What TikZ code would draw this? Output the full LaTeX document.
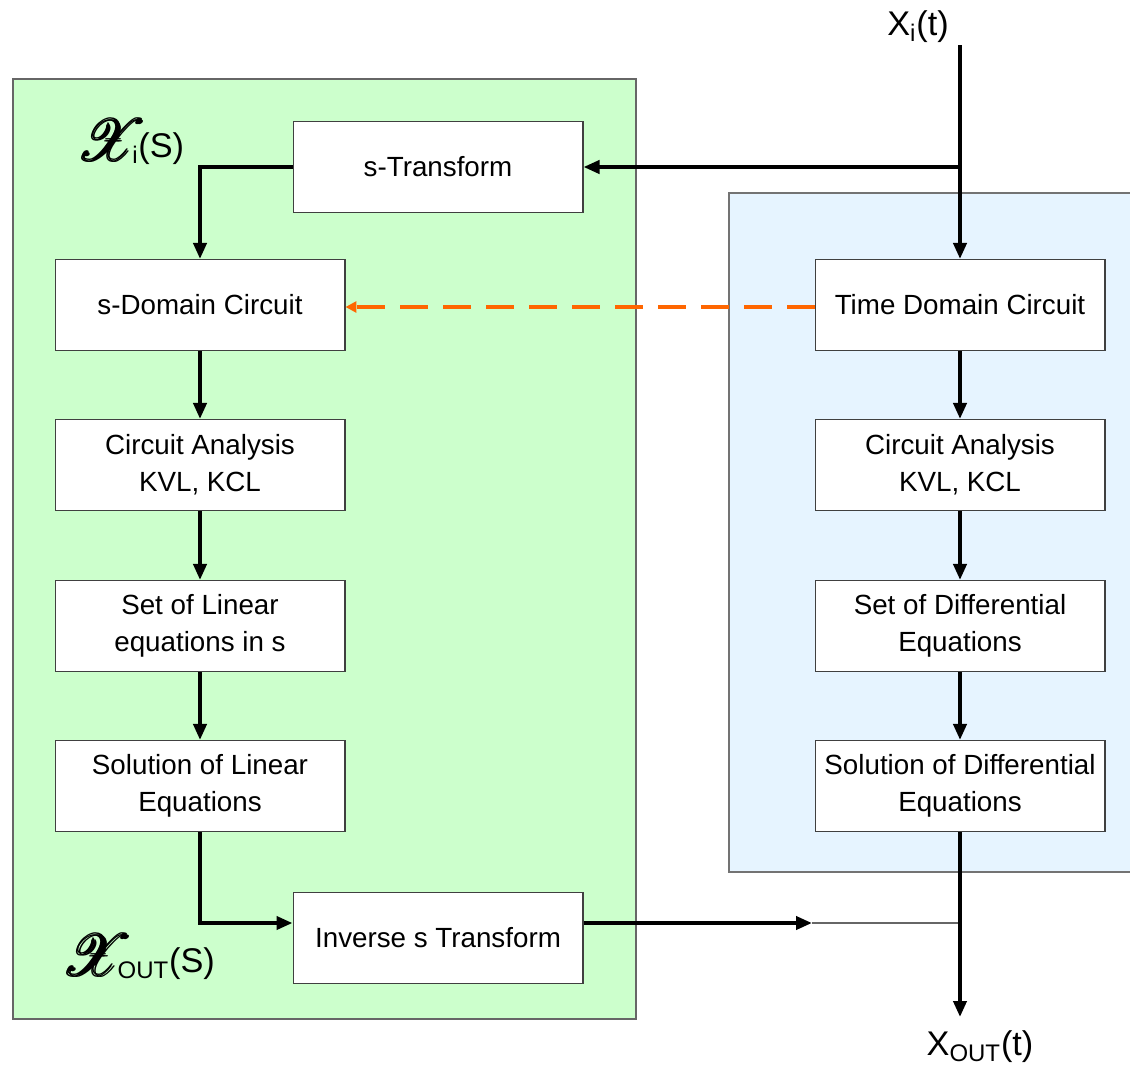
\documentclass[tikz,border=0pt]{standalone}
\usepackage{fontspec}
\setmainfont{Liberation Sans}
\usepackage{amsmath}
\usepackage{mathrsfs}
\usetikzlibrary{arrows.meta,positioning}
\definecolor{sgreen}{HTML}{CCFFCC}
\definecolor{tblue}{HTML}{E6F4FF}
\definecolor{dorange}{HTML}{FF6600}
\tikzset{font=\fontsize{15.8}{21}\selectfont}
\tikzset{blk/.style={draw=black!75, fill=white, line width=0.6pt, minimum width=5.8cm, minimum height=1.82cm, align=center, inner sep=0pt}}
\tikzset{flow/.style={line width=2.2pt, -{Triangle[length=0.32cm,width=0.26cm]}}}
\tikzset{sig/.style={font=\fontsize{19.5}{23}\selectfont}}
\newcommand{\scrX}{\raisebox{-2pt}{\scalebox{1.6}{$\pmb{\mathscr{X}}$}}}

\begin{document}
\begin{tikzpicture}[x=0.02cm, y=-0.02cm]
  \useasboundingbox (0,0) rectangle (1130,1069);
  % domains
  \draw[draw=black!60, fill=sgreen, line width=0.6pt] (13,79) rectangle (636,1019);
  \draw[draw=black!55, fill=tblue, line width=0.6pt] (729,193) rectangle (1140,872);
  % s-domain side
  \node[blk] (st) at (438,167) {s-Transform};
  \node[blk] (sdc) at (200,305) {s-Domain Circuit};
  \node[blk] (sca) at (200,465) {Circuit Analysis\\KVL, KCL};
  \node[blk] (slin) at (200,626) {Set of Linear\\equations in s};
  \node[blk] (ssol) at (200,786) {Solution of Linear\\Equations};
  \node[blk] (inv) at (438,938) {Inverse s Transform};
  % time domain side
  \node[blk] (tdc) at (960,305) {Time Domain Circuit};
  \node[blk] (tca) at (960,465) {Circuit Analysis\\KVL, KCL};
  \node[blk] (tde) at (960,626) {Set of Differential\\Equations};
  \node[blk] (tsol) at (960,786) {Solution of Differential\\Equations};
  % signals
  \node[sig] (xit) at (918,27) {X\textsubscript{i}(t)};
  \node[sig] (xot) at (980,1047) {X\textsubscript{OUT}(t)};
  \node[sig] (xis) at (131,142) {\scrX\kern-9pt\textsubscript{i}(S)};
  \node[sig] (xos) at (139,957) {\scrX\kern-9pt\textsubscript{OUT}(S)};
  \coordinate (top) at (960,45);
  \coordinate (split) at (960,167);
  \coordinate (jl) at (200,923);
  \coordinate (jr) at (960,923);
  \coordinate (tip) at (812,923);
  \coordinate (bot) at (960,1017);
  % connectors
  \draw[flow] (top) -- (tdc.north);
  \draw[flow] (split) -- (st.east);
  \draw[flow] (st.west) -| (sdc.north);
  \draw[flow] (sdc) -- (sca);
  \draw[flow] (sca) -- (slin);
  \draw[flow] (slin) -- (ssol);
  \draw[flow] (ssol.south) |- (jl -| inv.west);
  \draw[flow] (jl -| inv.east) -- (tip);
  \draw[black!60, line width=0.6pt] (tip) -- (jr);
  \draw[flow] (tdc) -- (tca);
  \draw[flow] (tca) -- (tde);
  \draw[flow] (tde) -- (tsol);
  \draw[flow] (tsol.south) -- (bot);
  \draw[dorange, line width=2.2pt, dash pattern=on 0.56cm off 0.3cm, -{Triangle[length=0.22cm,width=0.22cm]}] ([yshift=-0.04cm]tdc.west) -- ([yshift=-0.04cm]sdc.east);
\end{tikzpicture}
\end{document}
